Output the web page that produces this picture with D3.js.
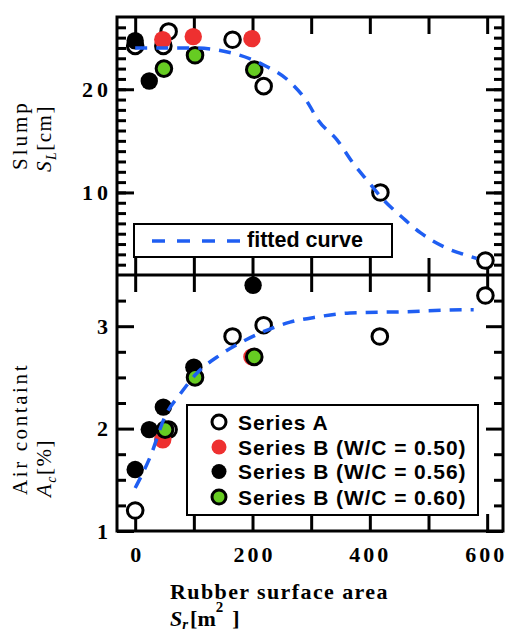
<!DOCTYPE html>
<html><head><meta charset="utf-8">
<script src="https://cdn.jsdelivr.net/npm/d3@7"></script>
<style>body{margin:0;background:#fff}</style>
</head><body><svg id="c" width="507" height="633"></svg>
<script>
// ---- data ----
const xTicks=[0,100,200,300,400,500,600];
const xLabels=[0,200,400,600];
const slumpMajor=[10,20];
const slumpMinor=d3.range(3,27,1);
const airMajor=[1,2,3];
const airMinor=[1.25,1.5,1.75,2.25,2.5,2.75,3.25];

const slumpA=[[0,24.2],[48,24.2],[57,25.6],[166,24.8],[219,20.3],[418,10.0],[597,3.4]];
const slumpB50=[[47,24.8],[99,25.1],[199,24.9]];
const slumpB56=[[0,24.7],[24,20.8]];
const slumpB60=[[49,22.0],[102,23.3],[203,21.9]];
const slumpFit=[[0,24.0],[50,24.0],[100,24.0],[140,23.8],[219,22.35],[264,20.7],[293,18.8],[312,17.0],[344,15.1],[372,12.8],[395,11.2],[423,9.3],[457,7.5],[486,6.1],[531,4.6],[571,3.8],[582,3.6]];

const airA=[[0,1.20],[57,1.99],[166,2.90],[219,3.01],[417,2.90],[597,3.30]];
const airB50=[[47,1.89],[199,2.70]];
const airB56=[[0,1.60],[24,1.99],[48,2.21],[100,2.60],[201,3.40]];
const airB60=[[51,1.99],[102,2.50],[203,2.70]];
const airFit=[[0,1.42],[26,1.73],[51,2.12],[77,2.34],[105,2.54],[145,2.72],[190,2.87],[224,2.96],[264,3.04],[310,3.09],[366,3.13],[452,3.14],[565,3.16],[577,3.16]];

const legendItems=["Series A","Series B (W/C = 0.50)","Series B (W/C = 0.56)","Series B (W/C = 0.60)"];

// ---- setup ----
const svg=d3.select("#c");
const L=117,R=503,T=17,M=275,B=531;
const x=d3.scaleLinear().domain([-31,627]).range([L,R]);
const yS=d3.scaleLinear().domain([2,27]).range([M,T]);
const yA=d3.scaleLinear().domain([1,3.5]).range([B,M]);
const BLUE="#1f5ef2",RED="#ee3030",GREEN="#66cc22";
const serif="'Liberation Serif','Times New Roman',serif";
const sans="'Liberation Sans',Arial,sans-serif";

function styleAxis(g){
  g.select(".domain").remove();
  g.selectAll(".tick line").attr("stroke","#000").attr("stroke-width",3);
  g.selectAll("text").attr("font-family",serif).attr("font-weight","bold").attr("font-size",22).attr("fill","#000");
}
function panel(y,top,bot,major,minor,showX){
  const g=svg.append("g");
  g.append("g").attr("transform",`translate(0,${bot})`).call(d3.axisBottom(x).tickValues(xTicks).tickSize(-17).tickPadding(15).tickFormat(d=>showX&&xLabels.includes(d)?d:"")).call(styleAxis)
    .selectAll("text").each(function(d){
      const s=String(d);
      if(s.length>1) d3.select(this).attr("textLength",13*s.length).attr("lengthAdjust","spacing");
      if(d===600) d3.select(this).attr("dx",-3);
      if(d===400) d3.select(this).attr("dx",-1.5);
    });
  g.append("g").attr("transform",`translate(0,${top})`).call(d3.axisTop(x).tickValues(xTicks).tickSize(-17).tickFormat("")).call(styleAxis);
  g.append("g").attr("transform",`translate(${L},0)`).call(d3.axisLeft(y).tickValues(major).tickSize(-17).tickPadding(9).tickFormat(d3.format("d"))).call(styleAxis)
    .selectAll("text").each(function(d){
      const s=String(d);
      if(s.length>1) d3.select(this).attr("textLength",26).attr("lengthAdjust","spacing");
    });
  g.append("g").attr("transform",`translate(${L},0)`).call(d3.axisLeft(y).tickValues(minor).tickSize(-9).tickFormat("")).call(styleAxis);
  g.append("g").attr("transform",`translate(${R},0)`).call(d3.axisRight(y).tickValues(major).tickSize(-17).tickFormat("")).call(styleAxis);
  g.append("g").attr("transform",`translate(${R},0)`).call(d3.axisRight(y).tickValues(minor).tickSize(-9).tickFormat("")).call(styleAxis);
  return g;
}
function markers(g,y,A,B50,B56,B60){
  g.selectAll(null).data(A).join("circle").attr("cx",d=>x(d[0])).attr("cy",d=>y(d[1])).attr("r",7.8).attr("fill","#fff").attr("stroke","#000").attr("stroke-width",3);
  g.selectAll(null).data(B50).join("circle").attr("cx",d=>x(d[0])).attr("cy",d=>y(d[1])).attr("r",8.7).attr("fill",RED);
  g.selectAll(null).data(B56).join("circle").attr("cx",d=>x(d[0])).attr("cy",d=>y(d[1])).attr("r",8.7).attr("fill","#000");
  g.selectAll(null).data(B60).join("circle").attr("cx",d=>x(d[0])).attr("cy",d=>y(d[1])).attr("r",7.8).attr("fill",GREEN).attr("stroke","#000").attr("stroke-width",3);
}
function fit(g,y,data){
  g.append("path").attr("d",d3.line().x(d=>x(d[0])).y(d=>y(d[1])).curve(d3.curveMonotoneX)(data))
    .attr("fill","none").attr("stroke",BLUE).attr("stroke-width",3.5).attr("stroke-dasharray","12,9");
}

// top panel
const gTop=panel(yS,T,M,slumpMajor,slumpMinor,false);
gTop.append("rect").attr("x",134).attr("y",224).attr("width",258).attr("height",33).attr("fill","#fff").attr("stroke","#000").attr("stroke-width",2);
gTop.append("line").attr("x1",152).attr("x2",240).attr("y1",241).attr("y2",241).attr("stroke",BLUE).attr("stroke-width",3.5).attr("stroke-dasharray","13,12");
gTop.append("text").attr("x",247).attr("y",247).attr("font-family",sans).attr("font-weight","bold").attr("font-size",21.5).text("fitted curve");
markers(gTop,yS,slumpA,slumpB50,slumpB56,slumpB60);
fit(gTop,yS,slumpFit);

// bottom panel
const gBot=panel(yA,M,B,airMajor,airMinor,true);
markers(gBot,yA,airA,airB50,airB56,airB60);
fit(gBot,yA,airFit);
const lg=gBot.append("g");
lg.append("rect").attr("x",187).attr("y",405).attr("width",291).attr("height",110).attr("fill","#fff").attr("stroke","#000").attr("stroke-width",2);
const ly=[422,447,471.5,497];
lg.append("circle").attr("cx",219).attr("cy",ly[0]).attr("r",7).attr("fill","#fff").attr("stroke","#000").attr("stroke-width",3);
lg.append("circle").attr("cx",219).attr("cy",ly[1]).attr("r",7.5).attr("fill",RED);
lg.append("circle").attr("cx",219).attr("cy",ly[2]).attr("r",7.5).attr("fill","#000");
lg.append("circle").attr("cx",219).attr("cy",ly[3]).attr("r",7).attr("fill",GREEN).attr("stroke","#000").attr("stroke-width",3);
lg.selectAll(null).data(legendItems).join("text").attr("x",238).attr("y",(d,i)=>ly[i]+7.5)
  .attr("font-family",sans).attr("font-weight","bold").attr("font-size",21).attr("letter-spacing",0.9).text(d=>d);

// frame
svg.append("rect").attr("x",L).attr("y",T).attr("width",R-L).attr("height",B-T).attr("fill","none").attr("stroke","#000").attr("stroke-width",3);
svg.append("line").attr("x1",L).attr("x2",R).attr("y1",M).attr("y2",M).attr("stroke","#000").attr("stroke-width",3);

// axis titles
function ytitle(tx,ty,build){
  const t=svg.append("text").attr("transform",`translate(${tx},${ty}) rotate(-90)`).attr("font-family",serif).attr("font-size",21);
  build(t);
}
ytitle(27,170,t=>t.attr("letter-spacing",3).text("Slump"));
ytitle(51,172,t=>{
  t.attr("letter-spacing",1.5);
  t.append("tspan").attr("font-style","italic").text("S");
  t.append("tspan").attr("font-style","italic").attr("font-size",14).attr("dy",5).text("L");
  t.append("tspan").attr("dy",-5).text("[cm]");
});
ytitle(27,495,t=>t.attr("letter-spacing",2.6).text("Air containt"));
ytitle(51,497,t=>{
  t.attr("letter-spacing",1.5);
  t.append("tspan").attr("font-style","italic").text("A");
  t.append("tspan").attr("font-style","italic").attr("font-size",14).attr("dy",5).text("c");
  t.append("tspan").attr("dy",-5).text("[%]");
});
svg.append("text").attr("x",170).attr("y",599).attr("font-family",serif).attr("font-weight","bold").attr("font-size",22).attr("letter-spacing",1.4).text("Rubber surface area");
const xt=svg.append("text").attr("x",170).attr("y",626).attr("font-family",serif).attr("font-weight","bold").attr("font-size",22);
xt.append("tspan").attr("font-style","italic").text("S");
xt.append("tspan").attr("font-style","italic").attr("font-size",15).attr("dy",3).text("r");
xt.append("tspan").attr("dy",-3).attr("dx",2).text("[m");
xt.append("tspan").attr("font-size",15).attr("dy",-14).text("2");
xt.append("tspan").attr("dy",14).attr("dx",9).text("]");
</script></body></html>
